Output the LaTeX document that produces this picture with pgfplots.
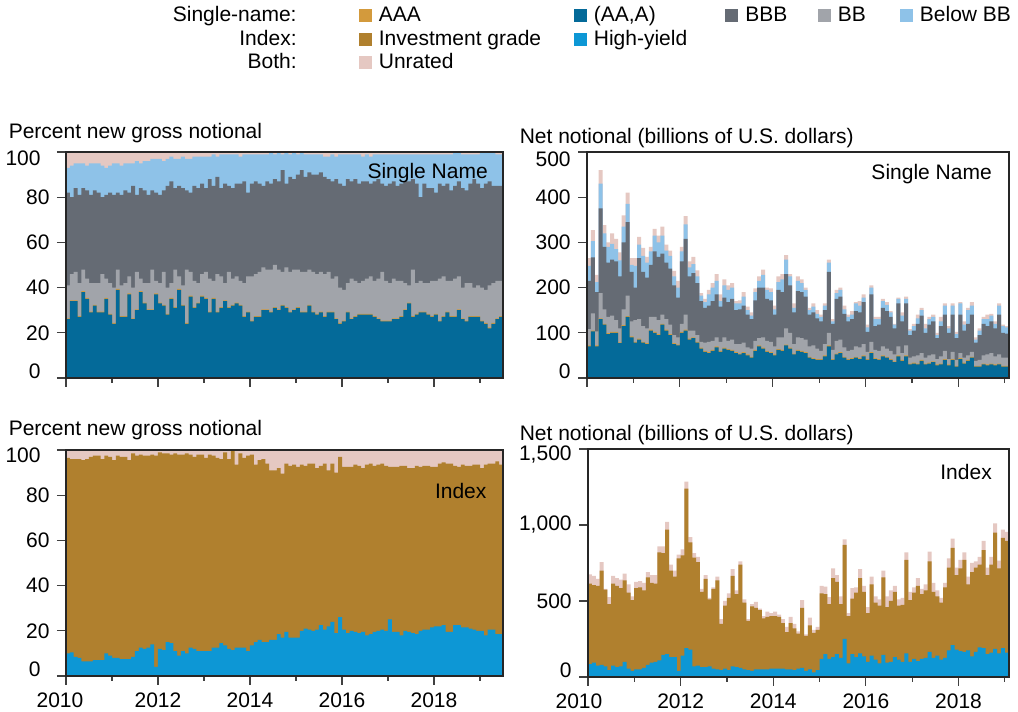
\documentclass[border=0pt]{standalone}
\usepackage{fontspec}
\setmainfont{Liberation Sans}
\usepackage{pgfplots}
\usepackage{pgfplotstable}
\pgfplotsset{compat=1.18}

\definecolor{aaa}{HTML}{D39A3C}
\definecolor{aaA}{HTML}{046A99}
\definecolor{bbb}{HTML}{656B74}
\definecolor{bb}{HTML}{A1A4AA}
\definecolor{belowbb}{HTML}{8EC2E8}
\definecolor{ig}{HTML}{B0802E}
\definecolor{hy}{HTML}{0D97D5}
\definecolor{unr}{HTML}{E5C8C2}

% single-name, percent (cumulative tops): (AA,A), AAA, BB, BBB, Below BB, total
\pgfplotstableread{
aa aaa bb bbb bl tot
26 26.4 41 82 93 100
34 34.4 46 80 94 100
34 34.4 47 84 95 100
27 27.4 42 81 95 100
38 38.4 48 84 95 100
35 35.4 44 83 94 100
29 29.4 42 81 95 100
32 32.4 42 83 95 100
29 29.4 42 82 95 100
29 29.4 46 80 94 100
35 35.4 44 81 93 100
28 28.4 42 82 94 100
24 24.4 40 81 95 100
39 39.4 48 82 95 100
27 27.4 41 81 94 100
27 27.4 42 83 95 100
37 37.4 45 82 95 100
26 26.4 40 85 95 100
30 30.4 47 81 96 100
38 38.4 44 84 95 100
33 33.4 42 83 96 100
30 30.4 42 81 96 100
30 30.4 48 83 97 100
37 37.4 43 82 97 100
33 33.4 42 81 97 100
32 32.4 47 83 96 100
28 28.4 40 85 97 100
35 35.4 42 87 98 100
31 31.4 48 84 97 100
39 39.4 45 85 97 100
32 32.4 41 84 98 100
24 24.4 48 83 97 100
36 36.4 47 82 97 100
31 31.4 43 85 98 100
33 33.4 42 84 98 100
36 36.4 46 86 98 100
35 35.4 47 84 98 100
29 29.4 44 88 98 100
35 35.4 43 85 99 100
29 29.4 46 89 98 100
31 31.4 45 84 99 100
34 34.4 42 86 99 100
31 31.4 47 85 99 100
32 32.4 44 84 99 100
33 33.4 45 86 99 100
32 32.4 43 86 98 100
27 27.4 42 87 99 100
29 29.4 45 82 99 100
25 25.4 45 86 99 100
27 27.4 46 87 99 100
27 27.4 47 86 99 100
30 30.4 49 85 99 100
30 30.4 48 87 99 100
29 29.4 48 86 100 100
31 31.4 50 88 99 100
30 30.4 48 87 100 100
32 32.4 47 92 99 100
31 31.4 49 86 100 100
29 29.4 47 89 99 100
30 30.4 48 88 100 100
31 31.4 48 90 99 100
29 29.4 47 92 100 100
29 29.4 47 89 99 100
32 32.4 48 91 99 100
29 29.4 47 90 99 100
28 28.4 46 90 99 100
29 29.4 47 91 99 100
27 27.4 46 89 98 100
29 29.4 47 88 98 100
29 29.4 44 87 99 100
26 26.4 45 88 98 100
24 24.4 40 86 99 100
25 25.4 39 85 99 100
29 29.4 42 88 99 100
26 26.4 44 87 99 100
27 27.4 43 88 99 100
28 28.4 42 86 99 100
28 28.4 43 87 98 100
28 28.4 44 87 99 100
28 28.4 45 86 98 100
27 27.4 43 87 99 100
26 26.4 44 88 99 100
25 25.4 47 86 99 100
25 25.4 43 85 99 100
25 25.4 42 86 99 100
26 26.4 44 87 99 100
26 26.4 43 85 99 100
27 27.4 43 86 99 100
30 30.4 42 87 99 100
33 33.4 41 87 99 100
27 27.4 48 88 99 100
28 28.4 42 86 99 100
29 29.4 43 80 99 100
29 29.4 42 86 99 100
28 28.4 42 84 99 100
27 27.4 43 84 99 100
28 28.4 43 82 99 100
25 25.4 44 86 99 100
27 27.4 45 85 99 100
29 29.4 43 86 99 100
27 27.4 43 83 99 100
27 27.4 44 85 100 100
30 30.4 45 87 100 100
26 26.4 40 84 99 100
25 25.4 42 83 99 100
27 27.4 42 86 99 100
27 27.4 40 88 99 100
27 27.4 41 86 99 100
25 25.4 40 84 100 100
24 24.4 39 86 100 100
22 22.4 41 87 100 100
24 24.4 42 85 100 100
26 26.4 43 85 99 100
27 27.4 43 85 99 100
}\snpct

% single-name, net notional (cumulative tops)
\pgfplotstableread{
aa aaa bb bbb bl tot
70 72 108 215 248 265
103 105 143 267 303 327
70 72 103 190 212 228
130 132 188 375 430 460
118 120 152 290 320 338
97 99 135 255 290 300
100 102 138 262 297 320
100 102 128 258 285 308
77 79 110 225 260 278
115 117 152 300 335 360
135 137 182 345 385 410
90 92 125 235 250 265
78 80 128 200 248 265
85 87 130 265 295 312
78 80 115 235 270 288
75 77 110 222 255 268
105 107 135 250 280 290
100 102 135 280 315 330
95 97 128 268 300 315
118 120 140 275 315 335
105 107 130 255 282 295
95 97 118 242 270 282
75 77 95 205 225 237
72 74 90 178 200 215
100 102 120 258 280 290
105 107 140 308 340 358
85 87 105 225 245 258
88 90 105 232 252 268
78 80 95 210 225 238
65 67 80 170 182 188
58 60 78 155 168 175
55 57 80 160 185 195
60 62 82 170 200 210
68 70 90 185 215 230
58 60 80 158 170 185
65 67 90 178 205 218
62 64 82 168 195 205
60 62 85 175 200 210
55 57 75 150 165 170
52 54 75 152 165 172
55 57 78 160 180 190
50 52 68 140 150 158
45 47 65 130 138 145
60 62 82 172 190 198
70 72 88 200 215 225
65 67 90 200 228 240
58 60 82 175 195 200
55 57 80 172 190 198
50 52 70 140 152 160
62 64 90 195 212 225
60 62 90 190 218 230
72 74 110 230 262 272
65 67 100 205 225 230
52 54 75 145 155 165
60 62 90 192 215 225
58 60 88 190 210 218
55 57 85 180 195 200
45 47 70 140 150 155
42 44 72 145 158 165
40 42 65 132 142 150
40 42 60 125 135 140
48 50 75 150 160 165
70 72 100 235 255 262
40 42 62 120 125 130
52 54 82 175 188 195
55 57 85 180 195 200
45 47 68 142 152 160
40 42 60 125 135 140
42 44 62 130 140 148
45 47 70 148 165 168
42 44 68 145 160 170
48 50 75 168 178 185
40 42 58 102 112 118
55 57 80 185 200 205
42 44 62 115 130 135
40 42 60 118 130 135
48 50 70 155 170 175
45 47 65 148 162 168
40 42 60 135 145 148
35 37 52 110 118 120
48 50 70 165 175 178
38 40 55 125 138 145
48 50 72 165 175 180
30 32 45 95 105 108
32 34 48 105 115 120
30 32 50 120 132 140
38 40 55 138 150 155
30 32 45 100 110 120
32 34 50 118 130 135
35 37 52 125 135 140
28 30 42 88 95 100
30 32 48 115 125 135
40 42 60 140 160 165
28 30 42 100 110 115
40 42 58 140 160 165
25 27 40 88 97 102
42 44 55 140 165 168
32 34 45 105 118 125
38 40 50 120 150 155
45 47 58 140 160 168
25 27 38 78 85 90
25 27 40 95 105 110
30 32 50 120 130 135
28 30 52 115 130 140
30 32 55 125 138 142
28 30 48 110 120 125
30 32 52 140 160 165
25 27 45 100 115 118
25 27 45 98 112 115
}\snnet

% index, percent (cumulative tops): high-yield, investment grade, total
\pgfplotstableread{
hy ig tot
10 96.5 100
10.5 96 100
8.5 96 100
8 96 100
6.5 95.5 100
6.5 96 100
6.5 97 100
7 97.5 100
7 97.5 100
7 96 100
10 97.5 100
9 97 100
8 95.5 100
8 97.5 100
7.5 97 100
7.5 97 100
7.5 95.5 100
8.5 98.5 100
11 97.5 100
12.5 98 100
12 97.5 100
12.5 97.5 100
14 98 100
4 97.5 100
12 99 100
11.5 98.5 100
15 98.5 100
14.5 98 100
11 98.5 100
9 98 100
11 98 100
10 98.5 100
12.5 98 100
12 97 100
11 98 100
11 98 100
11 96.5 100
11 98 100
12.5 97.5 100
12.5 96.5 100
14.5 96 100
13.5 99 100
12 96 100
11.5 100 100
12.5 93.5 100
12.5 98.5 100
12.5 96.5 100
11 97.5 100
13.5 98 100
15 93.5 100
16 95.5 100
15 96 100
15 94 100
16 91 100
16 91 100
18.5 92 100
17 89.5 100
19.5 94 100
17 93 100
17 93.5 100
17 92.5 100
20 93.5 100
21 93 100
20.5 94 100
20 94 100
20.5 92 100
22.5 93 100
20.5 94 100
22 91 100
24 94 100
19 90 100
26 97 100
20.5 92.5 100
19 92.5 100
20 92.5 100
19.5 93.5 100
19 93 100
19.5 92 100
18 93.5 100
18.5 94 100
19.5 93 100
20 93.5 100
20.5 94 100
20 93 100
25 92.5 100
19.5 92.5 100
19.5 92.5 100
18 93 100
20 93 100
19.5 92 100
19 92 100
18.5 93 100
20 92.5 100
20.5 93 100
20.5 93 100
21.5 92.5 100
22 92.5 100
22 94 100
22.5 94.5 100
19.5 94 100
19.5 94 100
22.5 93 100
22.5 92.5 100
21.5 93.5 100
21.5 93 100
21 93 100
20.5 93.5 100
20 93.5 100
20 92 100
18 93.5 100
20.5 94 100
20.5 94 100
18.5 95 100
18.5 93.5 100
}\ixpct

% index, net notional (cumulative tops)
\pgfplotstableread{
hy ig tot
85 615 675
95 605 665
75 600 645
80 700 755
70 575 580
45 480 525
75 615 665
65 600 650
70 585 640
100 635 680
55 555 610
40 505 530
50 585 625
50 590 630
60 570 620
80 655 690
95 620 670
100 615 670
110 820 860
145 815 860
150 970 1020
130 700 740
130 660 700
40 780 805
140 800 840
190 1240 1285
180 885 920
70 785 815
75 755 790
65 560 580
65 645 670
70 510 520
55 580 590
50 635 660
45 350 380
55 470 500
45 520 550
70 665 710
65 545 570
60 740 760
50 490 510
45 370 380
40 465 480
50 455 495
50 440 450
50 385 400
50 395 430
55 400 420
55 400 430
55 395 410
55 355 380
50 295 330
50 355 395
45 320 350
55 285 300
60 455 505
40 270 280
50 340 390
30 290 310
45 310 330
120 550 600
150 545 595
120 480 525
130 650 715
150 625 670
125 480 530
250 870 905
90 400 420
150 515 585
130 555 590
155 650 710
135 560 600
100 420 460
140 610 660
115 490 530
90 470 510
145 655 700
95 460 530
100 500 570
130 560 600
115 470 510
100 475 520
155 770 820
100 505 560
120 555 590
105 600 650
120 545 580
125 570 610
165 760 825
125 560 620
140 530 570
115 490 520
125 590 620
175 720 780
210 850 910
180 670 720
170 715 770
165 770 820
175 610 660
135 690 750
165 720 760
195 740 790
190 835 895
150 670 720
160 740 790
185 950 1010
155 715 765
190 915 970
160 895 955
}\ixnet

\pgfplotsset{
  panel/.style={
    scale only axis, anchor=south west,
    xmin=2010, ymin=0, enlargelimits=false, axis on top,
    tick align=outside, tick pos=left,
    xtick={2010,2012,...,2018},
    minor xtick={2011,2013,...,2019},
    major tick length=4.5pt, minor tick length=2.5pt,
    axis line style={black!85, line width=0.6pt},
    tick style={black!75, line width=0.6pt},
    /pgf/number format/assume math mode=true,
  },
  cb/.style={ybar, bar width=0.0865, bar shift=0pt, draw=none, fill=#1},
}
% end labels of the y axes sit a little inside the axis box, as in the source
\newcommand{\dn}[2]{\raisebox{-#1}[7.5pt][0pt]{#2}}
\newcommand{\up}[2]{\raisebox{#1}[7.5pt][0pt]{#2}}

\begin{document}
\fontsize{10.5}{12.6}\selectfont
\begin{tikzpicture}
\useasboundingbox (0,0) rectangle (509pt,356pt);

% legend
\node[anchor=base east, inner sep=0] at (148.5pt,345.15pt) {Single-name:};
\node[anchor=base east, inner sep=0] at (148.5pt,333.35pt) {Index:};
\node[anchor=base east, inner sep=0] at (148.5pt,321.5pt) {Both:};
\foreach \c/\x/\y/\t in {aaa/182.5/0/AAA, aaA/290/0/{(AA,A)}, bbb/365.75/0/BBB, bb/412/0/BB, belowbb/453/0/Below BB,
  ig/182.5/1/Investment grade, hy/290/1/High-yield, unr/182.5/2/Unrated}{
  \fill[\c] (\x pt-3.25pt,348.15pt-11.8pt*\y-3.25pt) rectangle ++(6.5pt,6.5pt);
  \node[anchor=base west, inner sep=0] at (\x pt+6.75pt,345.15pt-11.8pt*\y) {\t};
}

% top left: single-name percent
\begin{axis}[panel, at={(33pt,167pt)}, width=218.5pt, height=113pt,
  xmax=2019.5, ymax=100, ytick={0,20,...,100}, xticklabels={},
  yticklabels={\up{3.5pt}{0}\hspace*{4.5pt},20,40,60,80,\dn{3pt}{100}\hspace*{4.5pt}}]
\addplot[cb=unr] table[x expr=2010+(\coordindex+0.5)/12, y=tot] {\snpct};
\addplot[cb=belowbb] table[x expr=2010+(\coordindex+0.5)/12, y=bl] {\snpct};
\addplot[cb=bbb] table[x expr=2010+(\coordindex+0.5)/12, y=bbb] {\snpct};
\addplot[cb=bb] table[x expr=2010+(\coordindex+0.5)/12, y=bb] {\snpct};
\addplot[cb=aaa] table[x expr=2010+(\coordindex+0.5)/12, y=aaa] {\snpct};
\addplot[cb=aaA] table[x expr=2010+(\coordindex+0.5)/12, y=aa] {\snpct};
\node[anchor=east, inner sep=0] at (rel axis cs:0.966,0.907) {Single Name};
\end{axis}

% top right: single-name net notional
\begin{axis}[panel, at={(293.5pt,167pt)}, width=211pt, height=113pt,
  xmax=2019.09, ymax=500, ytick={0,100,...,500}, xticklabels={},
  yticklabels={\up{3.5pt}{0},100,200,300,400,\dn{3.5pt}{500}}]
\addplot[cb=unr] table[x expr=2010+(\coordindex+0.5)/12, y=tot] {\snnet};
\addplot[cb=belowbb] table[x expr=2010+(\coordindex+0.5)/12, y=bl] {\snnet};
\addplot[cb=bbb] table[x expr=2010+(\coordindex+0.5)/12, y=bbb] {\snnet};
\addplot[cb=bb] table[x expr=2010+(\coordindex+0.5)/12, y=bb] {\snnet};
\addplot[cb=aaa] table[x expr=2010+(\coordindex+0.5)/12, y=aaa] {\snnet};
\addplot[cb=aaA] table[x expr=2010+(\coordindex+0.5)/12, y=aa] {\snnet};
\node[anchor=east, inner sep=0] at (rel axis cs:0.96,0.903) {Single Name};
\end{axis}

% bottom left: index percent
\begin{axis}[panel, at={(33pt,18pt)}, width=218.5pt, height=113pt,
  xmax=2019.5, ymax=100, ytick={0,20,...,100},
  yticklabels={\up{3.5pt}{0}\hspace*{4.5pt},20,40,60,80,\dn{2.5pt}{100}\hspace*{4.5pt}},
  xticklabels={2010\hspace*{6pt},2012,2014,2016,2018}]
\addplot[cb=unr] table[x expr=2010+(\coordindex+0.5)/12, y=tot] {\ixpct};
\addplot[cb=ig] table[x expr=2010+(\coordindex+0.5)/12, y=ig] {\ixpct};
\addplot[cb=hy] table[x expr=2010+(\coordindex+0.5)/12, y=hy] {\ixpct};
\node[anchor=east, inner sep=0] at (rel axis cs:0.963,0.82) {Index};
\end{axis}

% bottom right: index net notional
\begin{axis}[panel, at={(294pt,17.5pt)}, width=210.5pt, height=114pt,
  xmax=2019.09, ymax=1500, ytick={0,500,1000,1500},
  yticklabels={\up{3.5pt}{0},500,{1,000},\dn{2pt}{1,500}},
  xticklabels={2010\hspace*{9pt},2012,2014,2016,2018}]
\addplot[cb=unr] table[x expr=2010+(\coordindex+0.5)/12, y=tot] {\ixnet};
\addplot[cb=ig] table[x expr=2010+(\coordindex+0.5)/12, y=ig] {\ixnet};
\addplot[cb=hy] table[x expr=2010+(\coordindex+0.5)/12, y=hy] {\ixnet};
\node[anchor=east, inner sep=0] at (rel axis cs:0.96,0.9) {Index};
\end{axis}

% panel titles
\node[anchor=base west, inner sep=0] at (4.2pt,286.85pt) {Percent new gross notional};
\node[anchor=base west, inner sep=0] at (259.7pt,284.3pt) {Net notional (billions of U.S. dollars)};
\node[anchor=base west, inner sep=0] at (4.2pt,138pt) {Percent new gross notional};
\node[anchor=base west, inner sep=0] at (259.7pt,135.7pt) {Net notional (billions of U.S. dollars)};
\end{tikzpicture}
\end{document}
